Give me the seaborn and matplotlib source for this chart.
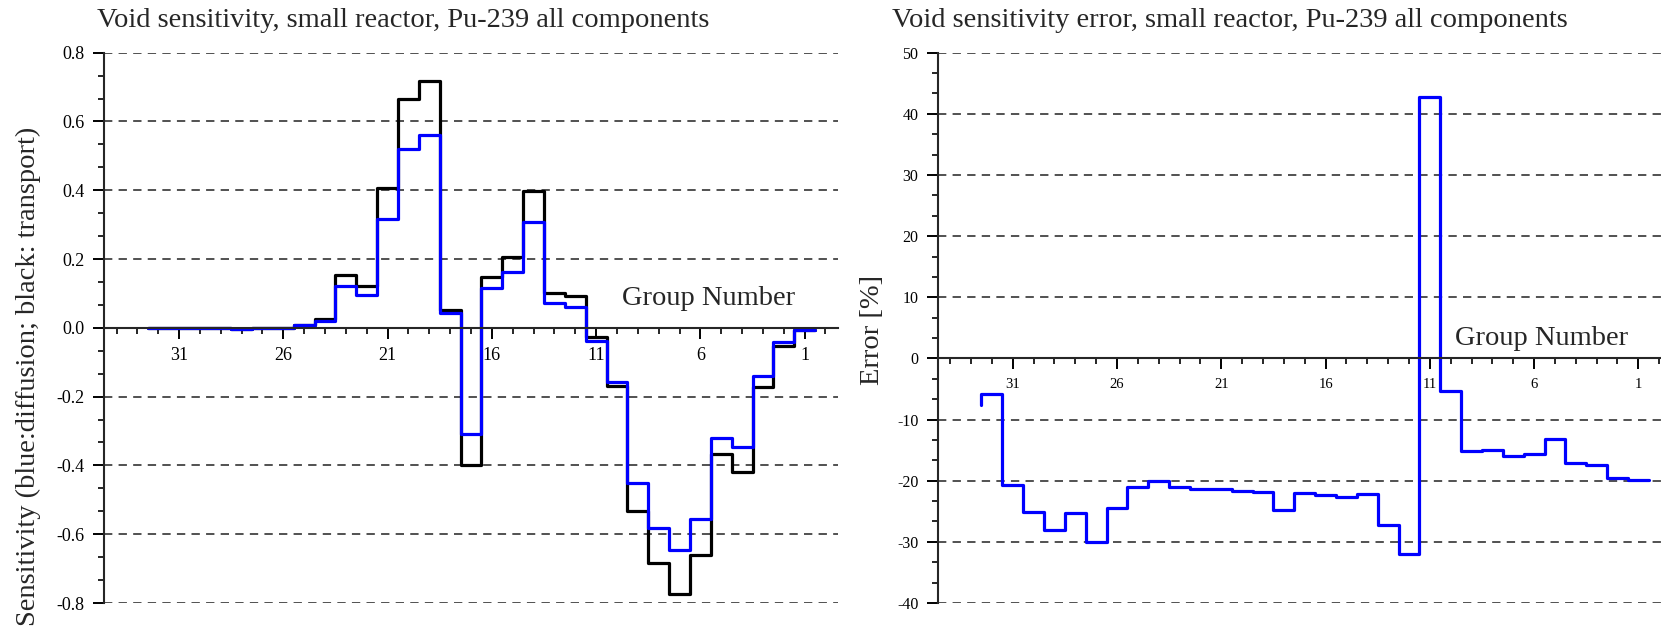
import numpy as np
import pandas as pd
import seaborn as sns
import matplotlib.pyplot as plt
from matplotlib.ticker import MultipleLocator, FormatStrFormatter

# energy groups, drawn from 32 (left) down to 1 (right)
groups = list(range(32, 0, -1))
major_groups = [31, 26, 21, 16, 11, 6, 1]

# value at the left boundary of group 32, where each curve starts
sens_start = 0.0
err_start = -7.6

# void sensitivity per group (black: transport, blue: diffusion)
transport = [0.0, 0.0, 0.0, -0.001, -0.002, -0.001, 0.001, 0.008, 0.027, 0.155,
             0.122, 0.406, 0.664, 0.719, 0.053, -0.398, 0.149, 0.207, 0.397, 0.102,
             0.092, -0.027, -0.170, -0.532, -0.685, -0.773, -0.661, -0.366, -0.420, -0.172,
             -0.052, -0.007]
diffusion = [0.0, 0.0, 0.0, -0.001, -0.002, -0.001, 0.0, 0.008, 0.019, 0.122,
             0.095, 0.317, 0.520, 0.560, 0.042, -0.310, 0.115, 0.162, 0.308, 0.073,
             0.061, -0.037, -0.157, -0.451, -0.582, -0.646, -0.557, -0.320, -0.347, -0.140,
             -0.041, -0.007]

# diffusion error in %
error_pct = [-5.8, -20.7, -25.1, -28.0, -25.2, -30.0, -24.4, -21.0, -20.0, -21.0,
             -21.4, -21.4, -21.7, -21.9, -24.8, -22.0, -22.4, -22.7, -22.2, -27.3,
             -32.0, 42.7, -5.4, -15.2, -15.0, -16.0, -15.6, -13.1, -17.1, -17.5,
             -19.5, -19.9]

sns.set_style("ticks")
plt.rcParams['font.family'] = ['Liberation Serif', 'DejaVu Serif']
plt.rcParams['axes.unicode_minus'] = False
plt.rcParams['lines.scale_dashes'] = False

# step outline: upper edge of group 32, then the lower edge of every group
edges = [groups[0] + 0.5] + [g - 0.5 for g in groups]
sens_df = pd.DataFrame({'edge': edges,
                        'transport': [sens_start] + transport,
                        'diffusion': [sens_start] + diffusion})
err_df = pd.DataFrame({'edge': edges, 'error': [err_start] + error_pct})

W, H = 1661, 628
fig = plt.figure(figsize=(W / 100, H / 100), dpi=100)
ax1 = fig.add_axes([104 / W, 25 / H, 734 / W, 550.3 / H])
ax2 = fig.add_axes([937.7 / W, 25 / H, 734 / W, 550.3 / H])

big = 20.5
step_kw = dict(lw=2.3, drawstyle='steps-pre', sort=False, estimator=None)

sns.lineplot(data=sens_df, x='edge', y='transport', ax=ax1, color='black', **step_kw)
sns.lineplot(data=sens_df, x='edge', y='diffusion', ax=ax1, color='#0000ff', **step_kw)
sns.lineplot(data=err_df, x='edge', y='error', ax=ax2, color='#0000ff', **step_kw)


def style_axis(ax, ylim, ystep, fmt, xsize, ysize):
    ax.set_xlim(34.6, -0.6)
    ax.set_ylim(*ylim)
    ax.spines['bottom'].set_position(('data', 0))
    ax.spines[['top', 'right']].set_visible(False)
    for s in ['left', 'bottom']:
        ax.spines[s].set_linewidth(1.5)
    ax.set_xticks(major_groups)
    ax.set_xticks(range(0, 35), minor=True)
    ax.yaxis.set_major_locator(MultipleLocator(ystep))
    ax.yaxis.set_minor_locator(MultipleLocator(ystep / 3))
    ax.yaxis.set_major_formatter(FormatStrFormatter(fmt))
    ax.tick_params(which='major', length=8, width=1.4, direction='out',
                   pad=6, colors='black')
    ax.tick_params(axis='x', labelsize=xsize)
    ax.tick_params(axis='y', labelsize=ysize)
    ax.tick_params(which='minor', length=4, width=1.4, direction='out')
    ax.yaxis.grid(True, which='major', linestyle=(0, (6, 4.5)), color='#333333', lw=1.2)
    ax.xaxis.grid(False)
    ax.set_axisbelow(True)


style_axis(ax1, (-0.8, 0.8), 0.2, '%.1f', 13, 13)
style_axis(ax2, (-40, 50), 10, '%d', 10.5, 11.5)

ax1.set_title('Void sensitivity, small reactor, Pu-239 all components',
              loc='left', fontsize=big, x=-0.009, y=1.059, va='center', pad=0)
ax2.set_title('Void sensitivity error, small reactor, Pu-239 all components',
              loc='left', fontsize=big, x=-0.062, y=1.059, va='center', pad=0)

ax1.set_xlabel('Group Number', fontsize=big, va='center')
ax1.xaxis.set_label_coords(0.8236, 0.554)
ax2.set_xlabel('Group Number', fontsize=big, va='center')
ax2.xaxis.set_label_coords(0.8226, 0.4815)

ax1.set_ylabel('Sensitivity (blue:diffusion; black: transport)', fontsize=big, va='center')
ax1.yaxis.set_label_coords(-0.1035, 0.4125)
ax2.set_ylabel('Error [%]', fontsize=big, va='center')
ax2.yaxis.set_label_coords(-0.0895, 0.496)

fig.savefig('out.png', dpi=100)
